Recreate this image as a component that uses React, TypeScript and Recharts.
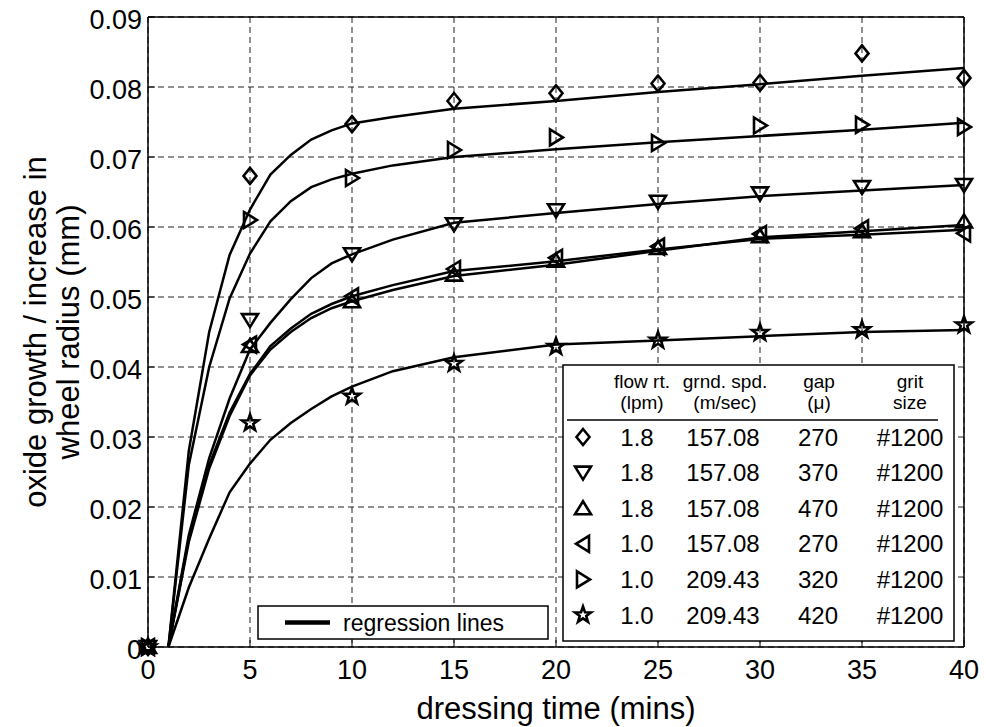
import React from 'react';
import {
    ComposedChart,
    Line,
    Scatter,
    XAxis,
    YAxis,
    CartesianGrid,
} from 'recharts';

// measured points (dressing time, mins)
const times = [0, 5, 10, 15, 20, 25, 30, 35, 40];
const diamondPts = [0, 0.0673, 0.0747, 0.0780, 0.0791, 0.0805, 0.0806, 0.0848, 0.0813];
const downPts = [0, 0.0467, 0.0561, 0.0604, 0.0624, 0.0636, 0.0648, 0.0657, 0.0660];
const upPts = [0, 0.0430, 0.0494, 0.0532, 0.0552, 0.0570, 0.0587, 0.0594, 0.0608];
const leftPts = [0, 0.0432, 0.0501, 0.0540, 0.0556, 0.0572, 0.0590, 0.0598, 0.0591];
const rightPts = [0, 0.0610, 0.0670, 0.0710, 0.0728, 0.0720, 0.0745, 0.0746, 0.0743];
const starPts = [0, 0.0320, 0.0358, 0.0405, 0.0429, 0.0438, 0.0449, 0.0453, 0.0460];

// regression lines
const fitTimes = [1, 2, 3, 4, 5, 6, 7, 8, 9, 10, 12, 15, 20, 25, 30, 35, 40];
const diamondFit = [0, 0.028, 0.045, 0.056, 0.0625, 0.0675, 0.0703, 0.0725, 0.0738, 0.0748, 0.0757, 0.0769, 0.0780, 0.0793, 0.0804, 0.0816, 0.0827];
const rightFit = [0, 0.026, 0.040, 0.0498, 0.0562, 0.0608, 0.0637, 0.0657, 0.0668, 0.0676, 0.0688, 0.0700, 0.0711, 0.0721, 0.0730, 0.0739, 0.0749];
const downFit = [0, 0.016, 0.027, 0.0355, 0.0425, 0.0463, 0.0497, 0.0527, 0.0548, 0.0561, 0.0582, 0.0606, 0.0620, 0.0633, 0.0644, 0.0652, 0.0660];
const upFit = [0, 0.015, 0.0255, 0.033, 0.0388, 0.0425, 0.0450, 0.0470, 0.0484, 0.0494, 0.0510, 0.0530, 0.0546, 0.0566, 0.0585, 0.0594, 0.0603];
const leftFit = [0, 0.0155, 0.026, 0.0335, 0.039, 0.0430, 0.0455, 0.0476, 0.0490, 0.0501, 0.0517, 0.0537, 0.0551, 0.0568, 0.0583, 0.0589, 0.0596];
const starFit = [0, 0.0085, 0.0155, 0.0221, 0.0262, 0.0296, 0.0320, 0.0340, 0.0358, 0.0372, 0.0394, 0.0414, 0.0432, 0.0438, 0.0444, 0.0450, 0.0453];

const xTicks = [0, 5, 10, 15, 20, 25, 30, 35, 40];
const yTicks = [0, 0.01, 0.02, 0.03, 0.04, 0.05, 0.06, 0.07, 0.08, 0.09];

// legend table
const legendMarkers = ['diamond', 'down', 'up', 'left', 'right', 'star'];
const flowRates = ['1.8', '1.8', '1.8', '1.0', '1.0', '1.0'];
const grindSpeeds = ['157.08', '157.08', '157.08', '157.08', '209.43', '209.43'];
const gaps = ['270', '370', '470', '270', '320', '420'];
const gritSizes = ['#1200', '#1200', '#1200', '#1200', '#1200', '#1200'];

const FONT = '"Liberation Sans", Arial, Helvetica, sans-serif';

const toPts = (xs: number[], ys: number[]) => xs.map((x, i) => ({ x, y: ys[i] }));

const markerShape = (kind: string, cx: number, cy: number) => {
    const common = { fill: 'none', stroke: '#000', strokeWidth: 2.6, strokeLinejoin: 'miter' as const };
    let pts = '';
    switch (kind) {
        case 'diamond':
            pts = `${cx},${cy - 8} ${cx + 6.5},${cy} ${cx},${cy + 8} ${cx - 6.5},${cy}`;
            break;
        case 'down':
            pts = `${cx - 8},${cy - 6} ${cx + 8},${cy - 6} ${cx},${cy + 7}`;
            break;
        case 'up':
            pts = `${cx - 8},${cy + 6} ${cx + 8},${cy + 6} ${cx},${cy - 7}`;
            break;
        case 'left':
            pts = `${cx + 6},${cy - 8} ${cx + 6},${cy + 8} ${cx - 7},${cy}`;
            break;
        case 'right':
            pts = `${cx - 6},${cy - 8} ${cx - 6},${cy + 8} ${cx + 7},${cy}`;
            break;
        default: {
            // pentagram
            const p: string[] = [];
            for (let k = 0; k < 10; k++) {
                const r = k % 2 === 0 ? 8.5 : 3.4;
                const a = -Math.PI / 2 + (k * Math.PI) / 5;
                p.push(`${cx + r * Math.cos(a)},${cy + r * Math.sin(a)}`);
            }
            pts = p.join(' ');
        }
    }
    return <polygon points={pts} {...common} />;
};

const shapeFor = (kind: string) => (props: any) => markerShape(kind, props.cx, props.cy);

const renderYTick = ({ x, y, payload }: any) => (
    <text x={x} y={y + 3} textAnchor="end" dominantBaseline="central" fontSize={27} fontFamily={FONT} fill="#000">
        {payload.value === 0 ? '0' : payload.value.toFixed(2)}
    </text>
);

const renderXTick = ({ x, y, payload }: any) => (
    <text x={x} y={y} dy="0.71em" textAnchor="middle" fontSize={27} fontFamily={FONT} fill="#000">
        {payload.value}
    </text>
);

const renderYTitle = ({ viewBox }: any) => {
    const cy = viewBox.y + viewBox.height / 2;
    return (
        <g fontSize={31} fontFamily={FONT} fill="#000">
            <text x={35} y={cy} textAnchor="middle" dominantBaseline="central" transform={`rotate(-90 35 ${cy})`}>
                oxide growth / increase in
            </text>
            <text x={68} y={cy} textAnchor="middle" dominantBaseline="central" transform={`rotate(-90 68 ${cy})`}>
                wheel radius (mm)
            </text>
        </g>
    );
};

const series = [
    { kind: 'diamond', pts: diamondPts, fit: diamondFit },
    { kind: 'down', pts: downPts, fit: downFit },
    { kind: 'up', pts: upPts, fit: upFit },
    { kind: 'left', pts: leftPts, fit: leftFit },
    { kind: 'right', pts: rightPts, fit: rightFit },
    { kind: 'star', pts: starPts, fit: starFit },
];

const LegendOverlay = () => {
    const colX = [637, 723, 818, 910];
    const rowY = (i: number) => 437 + i * 35.6;
    return (
        <svg width={986} height={727} style={{ position: 'absolute', left: 0, top: 0, pointerEvents: 'none' }} fontFamily={FONT}>
            {/* regression lines box */}
            <rect x={258} y={606} width={290} height={33} fill="#fff" stroke="#000" strokeWidth={1.5} />
            <line x1={285} y1={622.5} x2={330} y2={622.5} stroke="#000" strokeWidth={4.5} />
            <text x={343} y={623} dominantBaseline="central" fontSize={23} fill="#000">regression lines</text>

            {/* parameter table */}
            <rect x={563} y={365} width={391} height={276} fill="#fff" stroke="#000" strokeWidth={1.5} />
            <g fontSize={19} textAnchor="middle" fill="#000">
                <text x={642} y={381} dominantBaseline="central">flow rt.</text>
                <text x={725} y={381} dominantBaseline="central">grnd. spd.</text>
                <text x={819} y={381} dominantBaseline="central">gap</text>
                <text x={910} y={381} dominantBaseline="central">grit</text>
                <text x={642} y={402} dominantBaseline="central">(lpm)</text>
                <text x={725} y={402} dominantBaseline="central">(m/sec)</text>
                <text x={819} y={402} dominantBaseline="central">(μ)</text>
                <text x={910} y={402} dominantBaseline="central">size</text>
            </g>
            <line x1={567} y1={420} x2={938} y2={420} stroke="#000" strokeWidth={1.5} />
            {legendMarkers.map((m, i) => (
                <g key={m}>
                    {markerShape(m, 583, rowY(i))}
                    <g fontSize={24} textAnchor="middle" fill="#000">
                        <text x={colX[0]} y={rowY(i)} dominantBaseline="central">{flowRates[i]}</text>
                        <text x={colX[1]} y={rowY(i)} dominantBaseline="central">{grindSpeeds[i]}</text>
                        <text x={colX[2]} y={rowY(i)} dominantBaseline="central">{gaps[i]}</text>
                        <text x={colX[3]} y={rowY(i)} dominantBaseline="central">{gritSizes[i]}</text>
                    </g>
                </g>
            ))}
        </svg>
    );
};

export default function App() {
    return (
        <div style={{ position: 'absolute', left: 0, top: 0, width: 986, height: 727, background: '#fff' }}>
            <ComposedChart width={986} height={727} margin={{ top: 16, right: 21, bottom: 0, left: 0 }}>
                <CartesianGrid stroke="#222" strokeDasharray="6 4" strokeWidth={1} />

                <XAxis
                    type="number"
                    dataKey="x"
                    domain={[0, 40]}
                    ticks={xTicks}
                    height={80}
                    tickSize={-7}
                    tickMargin={20}
                    tick={renderXTick}
                    axisLine={{ stroke: '#000', strokeWidth: 1.5 }}
                    tickLine={{ stroke: '#000' }}
                    label={{ value: 'dressing time (mins)', position: 'insideBottom', offset: 8, fontSize: 31, fontFamily: FONT, fill: '#000' }}
                />
                <XAxis
                    xAxisId="top"
                    orientation="top"
                    type="number"
                    dataKey="x"
                    domain={[0, 40]}
                    ticks={xTicks}
                    height={1}
                    tickSize={-7}
                    tick={false}
                    axisLine={{ stroke: '#000', strokeWidth: 1.5 }}
                    tickLine={{ stroke: '#000' }}
                />
                <YAxis
                    type="number"
                    dataKey="y"
                    domain={[0, 0.09]}
                    ticks={yTicks}
                    width={148}
                    tickSize={-7}
                    tickMargin={13}
                    tick={renderYTick}
                    axisLine={{ stroke: '#000', strokeWidth: 1.5 }}
                    tickLine={{ stroke: '#000' }}
                    label={{ content: renderYTitle }}
                />
                <YAxis
                    yAxisId="right"
                    orientation="right"
                    type="number"
                    dataKey="y"
                    domain={[0, 0.09]}
                    ticks={yTicks}
                    width={1}
                    tickSize={-7}
                    tick={false}
                    axisLine={{ stroke: '#000', strokeWidth: 1.5 }}
                    tickLine={{ stroke: '#000' }}
                />

                {series.map(s => (
                    <Line
                        key={`fit-${s.kind}`}
                        data={toPts(fitTimes, s.fit)}
                        dataKey="y"
                        type="linear"
                        stroke="#000"
                        strokeWidth={2.5}
                        dot={false}
                        activeDot={false}
                        isAnimationActive={false}
                    />
                ))}
                {series.map(s => (
                    <Scatter
                        key={`pts-${s.kind}`}
                        data={toPts(times, s.pts)}
                        shape={shapeFor(s.kind)}
                        isAnimationActive={false}
                    />
                ))}
            </ComposedChart>
            <LegendOverlay />
        </div>
    );
}
